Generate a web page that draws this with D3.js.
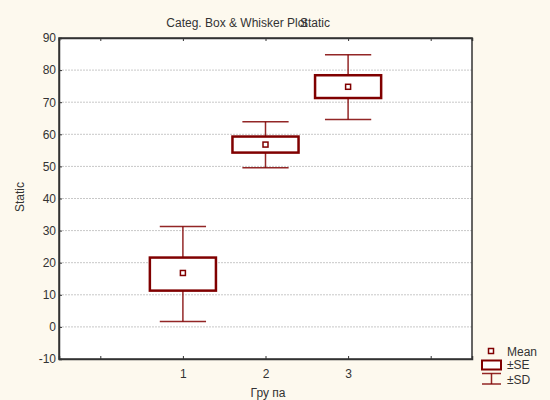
<!DOCTYPE html>
<html>
<head>
<meta charset="utf-8">
<script src="https://cdn.jsdelivr.net/npm/d3@7"></script>
<style>
body { margin: 0; background: #fdf9ee; }
text { font-family: "Liberation Sans", Arial, sans-serif; fill: #333; }
</style>
</head>
<body>
<div id="chart"></div>
<script>
// data
var groups = [1, 2, 3];
var means = [16.8, 56.8, 74.8];
var seLow = [11.3, 54.3, 71.3];
var seHigh = [21.6, 59.3, 78.4];
var sdLow = [1.7, 49.6, 64.6];
var sdHigh = [31.3, 63.9, 84.8];
var yTicks = [-10, 0, 10, 20, 30, 40, 50, 60, 70, 80, 90];

var svgWidth = 550, svgHeight = 400;
var margin = { top: 38, right: 78, bottom: 41, left: 59 };
var width = svgWidth - margin.left - margin.right;
var height = svgHeight - margin.top - margin.bottom;

var svg = d3.select("#chart").append("svg")
    .attr("width", svgWidth)
    .attr("height", svgHeight);

svg.append("rect").attr("width", svgWidth).attr("height", svgHeight).attr("fill", "#fdf9ee");

var g = svg.append("g").attr("transform", `translate(${margin.left},${margin.top})`);

g.append("rect").attr("width", width).attr("height", height).attr("fill", "#fff");

var x = d3.scaleLinear().domain([-0.5, 4.5]).range([0, width]);
var y = d3.scaleLinear().domain([-10, 90]).range([height, 0]);

// grid
g.selectAll(".grid").data(yTicks.filter(d => d > -10 && d < 90)).enter()
    .append("line")
    .attr("x1", 0).attr("x2", width)
    .attr("y1", d => y(d)).attr("y2", d => y(d))
    .attr("stroke", "#c8c8c8").attr("stroke-dasharray", "2,1");

// axes (ticks point inward)
var yAxis = d3.axisLeft(y).tickValues(yTicks).tickSize(-3).tickPadding(3)
    .tickFormat(d => String(d));
var yg = g.append("g").call(yAxis);
var xAxis = d3.axisBottom(x).tickValues([0, 1, 2, 3, 4]).tickSize(-3).tickPadding(10)
    .tickFormat(d => groups.indexOf(d) >= 0 ? d : "");
var xg = g.append("g").attr("transform", `translate(0,${height})`).call(xAxis);
g.append("g").call(d3.axisTop(x).tickValues([0, 1, 2, 3, 4]).tickSize(-3).tickFormat(""));
[yg, xg].forEach(a => a.selectAll("text").attr("font-size", "12px").attr("fill", "#333"));
g.selectAll(".domain").attr("stroke", "#333").attr("stroke-width", 1.5);
g.selectAll(".tick line").attr("stroke", "#333");

g.append("rect").attr("width", width).attr("height", height)
    .attr("fill", "none").attr("stroke", "#333").attr("stroke-width", 1.5);

var red = "#800000";
var boxHalf = 0.4, capHalf = 0.28;

var grp = g.selectAll(".grp").data(groups).enter().append("g");

function wline(sel) {
    return sel.attr("stroke", red).attr("stroke-width", 1.5).attr("stroke-opacity", 0.85);
}

// whiskers
wline(grp.append("line")
    .attr("x1", d => x(d)).attr("x2", d => x(d))
    .attr("y1", (d, i) => y(sdHigh[i])).attr("y2", (d, i) => y(seHigh[i])));
wline(grp.append("line")
    .attr("x1", d => x(d)).attr("x2", d => x(d))
    .attr("y1", (d, i) => y(seLow[i])).attr("y2", (d, i) => y(sdLow[i])));
wline(grp.append("line")
    .attr("x1", d => x(d - capHalf)).attr("x2", d => x(d + capHalf))
    .attr("y1", (d, i) => y(sdHigh[i])).attr("y2", (d, i) => y(sdHigh[i])));
wline(grp.append("line")
    .attr("x1", d => x(d - capHalf)).attr("x2", d => x(d + capHalf))
    .attr("y1", (d, i) => y(sdLow[i])).attr("y2", (d, i) => y(sdLow[i])));

// SE boxes
grp.append("rect")
    .attr("x", d => x(d - boxHalf))
    .attr("width", d => x(d + boxHalf) - x(d - boxHalf))
    .attr("y", (d, i) => y(seHigh[i]))
    .attr("height", (d, i) => y(seLow[i]) - y(seHigh[i]))
    .attr("fill", "#fff").attr("stroke", red).attr("stroke-width", 2.5);

// mean markers
grp.append("rect")
    .attr("x", d => x(d) - 2.5).attr("y", (d, i) => y(means[i]) - 2.5)
    .attr("width", 5).attr("height", 5)
    .attr("fill", "#fff").attr("stroke", red).attr("stroke-width", 1.5);

// titles (the two overlap in the original too)
svg.append("text").attr("x", 237).attr("y", 27).attr("text-anchor", "middle")
    .attr("font-size", "12px").text("Categ. Box & Whisker Plot");
svg.append("text").attr("x", 315).attr("y", 27).attr("text-anchor", "middle")
    .attr("font-size", "12px").text("Static");
svg.append("text").attr("transform", "translate(24,197) rotate(-90)")
    .attr("text-anchor", "middle").attr("font-size", "12px").text("Static");
svg.append("text").attr("x", 268).attr("y", 397).attr("text-anchor", "middle")
    .attr("font-size", "12px").text("Гру па");

// legend
var lg = svg.append("g").attr("transform", "translate(491,0)");
lg.append("rect").attr("x", -2.5).attr("y", 348.5).attr("width", 5).attr("height", 5)
    .attr("fill", "#fff").attr("stroke", red).attr("stroke-width", 1.5);
lg.append("text").attr("x", 16).attr("y", 356).attr("font-size", "12px").text("Mean");
lg.append("rect").attr("x", -9).attr("y", 360.5).attr("width", 19).attr("height", 9)
    .attr("fill", "#fff").attr("stroke", red).attr("stroke-width", 2);
lg.append("text").attr("x", 16).attr("y", 369).attr("font-size", "12px").text("±SE");
wline(lg.append("line").attr("x1", -9).attr("x2", 10).attr("y1", 373.5).attr("y2", 373.5));
wline(lg.append("line").attr("x1", 0.5).attr("x2", 0.5).attr("y1", 373.5).attr("y2", 384));
wline(lg.append("line").attr("x1", -9).attr("x2", 10).attr("y1", 384).attr("y2", 384));
lg.append("text").attr("x", 16).attr("y", 384).attr("font-size", "12px").text("±SD");
</script>
</body>
</html>
